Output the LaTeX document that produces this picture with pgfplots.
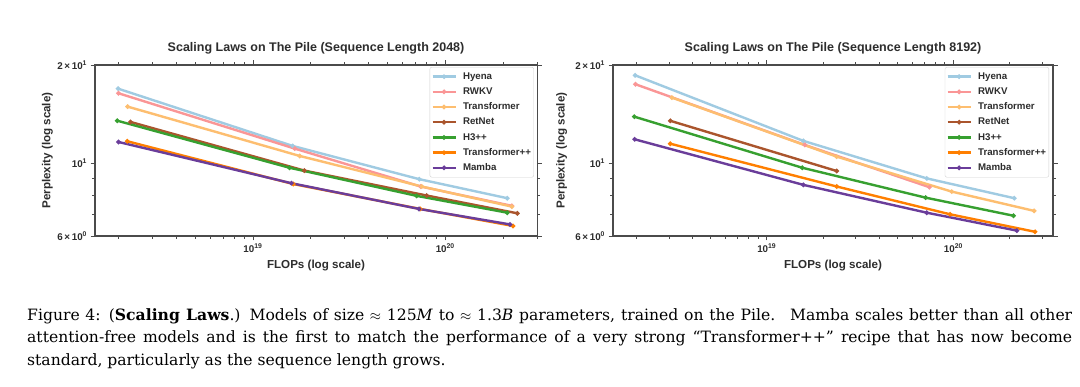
\documentclass[border=0pt]{standalone}
\usepackage{pgfplots}
\pgfplotsset{compat=1.18}
\usepackage{fontspec}
\setmainfont{DejaVu Serif}
\newfontfamily\plotfont{Liberation Sans}
\definecolor{cHyena}{RGB}{160,203,226}
\definecolor{cRWKV}{RGB}{250,150,150}
\definecolor{cTrans}{RGB}{253,190,112}
\definecolor{cRet}{RGB}{170,85,45}
\definecolor{cH3}{RGB}{55,160,48}
\definecolor{cTpp}{RGB}{255,127,0}
\definecolor{cMamba}{RGB}{106,61,154}
\definecolor{axgray}{RGB}{75,75,75}
\definecolor{txtgray}{RGB}{45,45,45}

\pgfplotsset{
  legend image code/.code={\draw[mark repeat=2,mark phase=2,#1] plot coordinates {(0pt,0pt) (11.5pt,0pt) (23pt,0pt)};},
}

\begin{document}
\begin{tikzpicture}
\useasboundingbox (0pt,0pt) rectangle (1080pt,387pt);
\fill[white] (0pt,0pt) rectangle (1080pt,387pt);

% ---------------- Left: sequence length 2048 ----------------
\begin{axis}[
  scale only axis,
  xmode=log, ymode=log,
  ymin=6, ymax=20,
  height=171pt,
  axis line style={axgray, line width=1.1pt},
  tick style={axgray, line width=0.9pt},
  tick align=outside,
  major tick length=4.5pt,
  minor tick length=2.8pt,
  xtick={1e19,1e20},
  xticklabels={10\textsuperscript{19},10\textsuperscript{20}},
  minor xtick={2e18,3e18,4e18,5e18,6e18,7e18,8e18,9e18,2e19,3e19,4e19,5e19,6e19,7e19,8e19,9e19,2e20,3e20},
  ytick={6,10,20},
  yticklabels={6\,×\,10\textsuperscript{0},10\textsuperscript{1},2\,×\,10\textsuperscript{1}},
  minor ytick={7,8,9},
  ticklabel style={font=\plotfont\bfseries\fontsize{9.8}{11}\selectfont, text=txtgray},
  label style={font=\plotfont\bfseries\fontsize{11.6}{14}\selectfont, text=txtgray},
  xlabel={FLOPs (log scale)},
  ylabel={Perplexity (log scale)},
  xlabel style={at={(axis description cs:0.5,0)}, anchor=center, yshift=-30pt},
  title style={font=\plotfont\bfseries\fontsize{12.5}{14}\selectfont, text=txtgray, at={(axis description cs:0.5,1)}, anchor=center, yshift=10.5pt},
  legend cell align=left,
  legend style={anchor=north east, draw=black!18, rounded corners=2pt, fill=white,
    font=\plotfont\bfseries\fontsize{9.7}{10}\selectfont, text=txtgray,
    inner xsep=1.5pt, inner ysep=3.7pt, row sep=3.8pt, column sep=5pt,
    nodes={inner sep=1.3pt, text height=7pt, text depth=1.8pt}},
  every axis plot/.append style={line width=2.4pt, mark=*, mark size=0.9pt},
  at={(95pt,151pt)}, anchor=south west,
  width=442pt,
  xmin=1.51e18, xmax=3.0e20,
  title={Scaling Laws on The Pile (Sequence Length 2048)},
  ylabel style={at={(axis description cs:-0.108,0.5)}, anchor=center},
  legend style={at={(rel axis cs:0.993,0.988)}},
]
\addplot[cHyena] coordinates {(1.99e18,16.93) (1.61e19,11.31) (7.33e19,8.95) (2.10e20,7.83)};
\addplot[cRWKV] coordinates {(2.00e18,16.39) (1.65e19,11.10) (7.45e19,8.50) (2.22e20,7.42)};
\addplot[cTrans] coordinates {(2.23e18,14.92) (1.75e19,10.54) (7.55e19,8.50) (2.22e20,7.38)};
\addplot[cRet] coordinates {(2.31e18,13.39) (1.85e19,9.51) (8.0e19,7.98) (2.37e20,7.04)};
\addplot[cH3] coordinates {(1.97e18,13.51) (1.55e19,9.70) (7.1e19,7.96) (2.10e20,7.07)};
\addplot[cTpp] coordinates {(2.22e18,11.69) (1.62e19,8.65) (7.4e19,7.26) (2.25e20,6.44)};
\addplot[cMamba] coordinates {(2.00e18,11.63) (1.585e19,8.70) (7.3e19,7.26) (2.17e20,6.51)};
\legend{Hyena,RWKV,Transformer,RetNet,H3++,Transformer++,Mamba}
\end{axis}

% ---------------- Right: sequence length 8192 ----------------
\begin{axis}[
  scale only axis,
  xmode=log, ymode=log,
  ymin=6, ymax=20,
  height=171pt,
  axis line style={axgray, line width=1.1pt},
  tick style={axgray, line width=0.9pt},
  tick align=outside,
  major tick length=4.5pt,
  minor tick length=2.8pt,
  xtick={1e19,1e20},
  xticklabels={10\textsuperscript{19},10\textsuperscript{20}},
  minor xtick={2e18,3e18,4e18,5e18,6e18,7e18,8e18,9e18,2e19,3e19,4e19,5e19,6e19,7e19,8e19,9e19,2e20,3e20},
  ytick={6,10,20},
  yticklabels={6\,×\,10\textsuperscript{0},10\textsuperscript{1},2\,×\,10\textsuperscript{1}},
  minor ytick={7,8,9},
  ticklabel style={font=\plotfont\bfseries\fontsize{9.8}{11}\selectfont, text=txtgray},
  label style={font=\plotfont\bfseries\fontsize{11.6}{14}\selectfont, text=txtgray},
  xlabel={FLOPs (log scale)},
  ylabel={Perplexity (log scale)},
  xlabel style={at={(axis description cs:0.5,0)}, anchor=center, yshift=-30pt},
  title style={font=\plotfont\bfseries\fontsize{12.5}{14}\selectfont, text=txtgray, at={(axis description cs:0.5,1)}, anchor=center, yshift=10.5pt},
  legend cell align=left,
  legend style={anchor=north east, draw=black!18, rounded corners=2pt, fill=white,
    font=\plotfont\bfseries\fontsize{9.7}{10}\selectfont, text=txtgray,
    inner xsep=1.5pt, inner ysep=3.7pt, row sep=3.8pt, column sep=5pt,
    nodes={inner sep=1.3pt, text height=7pt, text depth=1.8pt}},
  every axis plot/.append style={line width=2.4pt, mark=*, mark size=0.9pt},
  at={(613pt,151pt)}, anchor=south west,
  width=440pt,
  xmin=1.50e18, xmax=3.42e20,
  title={Scaling Laws on The Pile (Sequence Length 8192)},
  ylabel style={at={(axis description cs:-0.117,0.5)}, anchor=center},
  legend style={at={(rel axis cs:0.991,0.988)}},
]
\addplot[cHyena] coordinates {(1.97e18,18.6) (1.57e19,11.72) (7.2e19,9.0) (2.12e20,7.83)};
\addplot[cRWKV] coordinates {(1.98e18,17.46) (1.60e19,11.39) (7.44e19,8.46)};
\addplot[cTrans] coordinates {(3.10e18,15.9) (2.37e19,10.49) (9.8e19,8.2) (2.71e20,7.16)};
\addplot[cRet] coordinates {(3.04e18,13.5) (2.37e19,9.48)};
\addplot[cH3] coordinates {(1.95e18,13.9) (1.55e19,9.70) (7.1e19,7.86) (2.10e20,6.92)};
\addplot[cTpp] coordinates {(3.04e18,11.49) (2.37e19,8.5) (9.6e19,6.99) (2.74e20,6.18)};
\addplot[cMamba] coordinates {(1.96e18,11.85) (1.57e19,8.6) (7.2e19,7.07) (2.19e20,6.23)};
\legend{Hyena,RWKV,Transformer,RetNet,H3++,Transformer++,Mamba}
\end{axis}

% ---------------- Caption ----------------
\begin{scope}[every node/.style={inner sep=0pt, anchor=base west, font=\fontsize{15.6}{22}\selectfont}]
\node at (27pt,66.5pt) {\makebox[1045pt][s]{Figure 4: (\textbf{Scaling Laws}.) Models of size $\approx$ 125\textit{M} to $\approx$ 1.3\textit{B} parameters, trained on the Pile. \ Mamba scales better than all other}};
\node at (27pt,44pt) {\makebox[1045pt][s]{attention-free models and is the first to match the performance of a very strong “Transformer++” recipe that has now become}};
\node at (27pt,21.5pt) {standard, particularly as the sequence length grows.};
\end{scope}
\end{tikzpicture}
\end{document}
